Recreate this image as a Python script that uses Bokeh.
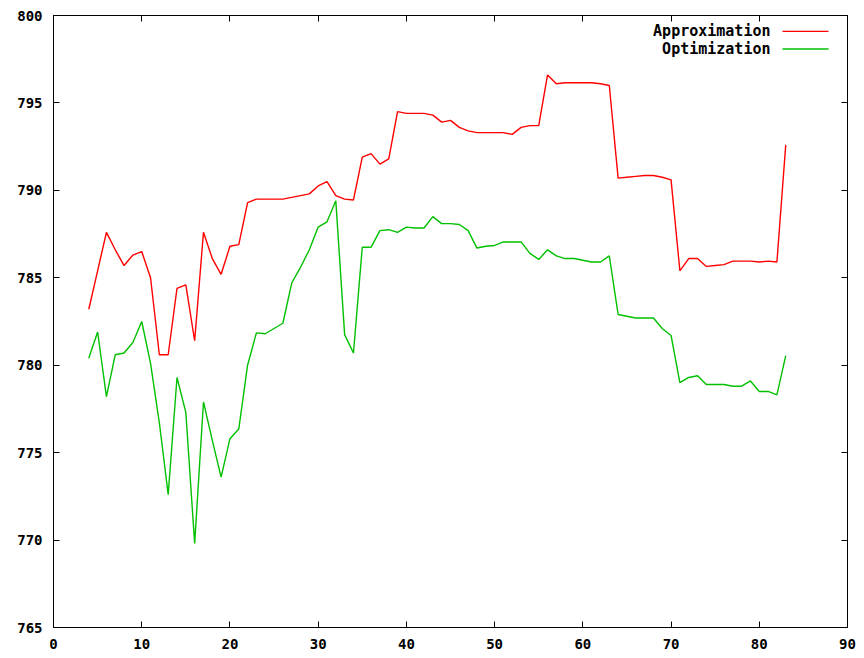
from bokeh.plotting import figure
from bokeh.models import LinearAxis, FixedTicker, Range1d, Label
from bokeh.embed import file_html
from bokeh.resources import INLINE

# ---- data ----
x_vals = list(range(4, 84))
approximation = [
    783.2, 785.4, 787.6, 786.6, 785.7, 786.3, 786.5, 785.0, 780.6, 780.6,
    784.4, 784.6, 781.4, 787.6, 786.1, 785.2, 786.8, 786.9, 789.3, 789.5,
    789.5, 789.5, 789.5, 789.6, 789.7, 789.8, 790.25, 790.5, 789.7, 789.5,
    789.45, 791.9, 792.1, 791.5, 791.8, 794.5, 794.4, 794.4, 794.4, 794.3,
    793.9, 794.0, 793.6, 793.4, 793.3, 793.3, 793.3, 793.3, 793.2, 793.6,
    793.7, 793.7, 796.6, 796.1, 796.15, 796.15, 796.15, 796.15, 796.1, 796.0,
    790.7, 790.75, 790.8, 790.85, 790.85, 790.75, 790.6, 785.4, 786.1, 786.1,
    785.65, 785.7, 785.75, 785.95, 785.95, 785.95, 785.9, 785.95, 785.9, 792.6,
]
optimization = [
    780.4, 781.9, 778.2, 780.6, 780.7, 781.3, 782.5, 780.1, 776.7, 772.6,
    779.3, 777.3, 769.8, 777.9, 775.7, 773.6, 775.8, 776.35, 780.0, 781.85,
    781.8, 782.1, 782.4, 784.7, 785.6, 786.6, 787.9, 788.2, 789.4, 781.75,
    780.7, 786.75, 786.75, 787.7, 787.75, 787.6, 787.9, 787.85, 787.85, 788.5,
    788.1, 788.1, 788.05, 787.7, 786.7, 786.8, 786.85, 787.05, 787.05, 787.05,
    786.4, 786.05, 786.6, 786.25, 786.1, 786.1, 786.0, 785.9, 785.9, 786.25,
    782.9, 782.8, 782.7, 782.7, 782.7, 782.1, 781.7, 779.0, 779.3, 779.4,
    778.9, 778.9, 778.9, 778.8, 778.8, 779.1, 778.5, 778.5, 778.3, 780.55,
]
series_names = ["Approximation", "Optimization"]
series_colors = ["#ff0000", "#00c000"]
x_ticks = [0, 10, 20, 30, 40, 50, 60, 70, 80, 90]
y_ticks = [765, 770, 775, 780, 785, 790, 795, 800]

FONT = "DejaVu Sans Mono"

p = figure(
    frame_width=794, frame_height=612,
    x_range=Range1d(0, 90), y_range=Range1d(765, 800),
    output_backend="svg", toolbar_location=None,
    x_axis_location=None, y_axis_location=None,
    min_border_left=53, min_border_top=15, min_border_right=16, min_border_bottom=0,
    background_fill_color="white", border_fill_color="white",
)
p.xgrid.visible = False
p.ygrid.visible = False
p.outline_line_color = "black"
p.outline_line_width = 1

def style_axis(ax, ticks, show_labels, standoff):
    ax.ticker = FixedTicker(ticks=ticks)
    ax.major_tick_in = 6
    ax.major_tick_out = 0
    ax.minor_tick_line_color = None
    ax.axis_line_color = "black"
    ax.major_tick_line_color = "black"
    ax.major_label_text_font = FONT
    ax.major_label_text_font_style = "bold"
    ax.major_label_text_color = "black"
    ax.major_label_text_font_size = "14px"
    if show_labels:
        ax.major_label_standoff = standoff
    else:
        ax.major_label_overrides = {t: "" for t in ticks}
        ax.major_label_standoff = 0

bottom = LinearAxis(); style_axis(bottom, x_ticks, True, 11)
top = LinearAxis(); style_axis(top, x_ticks, False, 0)
left = LinearAxis(); style_axis(left, y_ticks, True, 11)
right = LinearAxis(); style_axis(right, y_ticks, False, 0)
p.add_layout(bottom, "below")
p.add_layout(top, "above")
p.add_layout(left, "left")
p.add_layout(right, "right")

p.line(x_vals, approximation, line_color=series_colors[0], line_width=1.4)
p.line(x_vals, optimization, line_color=series_colors[1], line_width=1.4)

# gnuplot-style key: text right-aligned, sample line on the right
key_y = [799.09, 798.08]
for name, color, ky in zip(series_names, series_colors, key_y):
    p.add_layout(Label(x=81.27, y=ky, text=name, text_align="right",
                       text_baseline="middle", text_font=FONT,
                       text_font_style="bold", text_font_size="15px",
                       text_color="black"))
    p.segment(x0=[82.63], y0=[ky], x1=[87.85], y1=[ky],
              line_color=color, line_width=1.4)

open("out.html", "w").write(file_html(p, INLINE))
